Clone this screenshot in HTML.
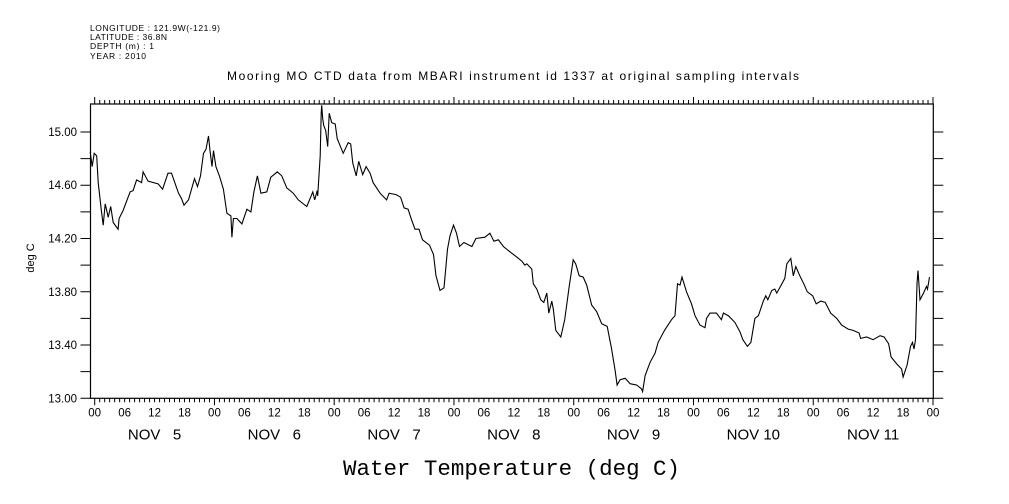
<!DOCTYPE html>
<html><head><meta charset="utf-8"><style>
body{margin:0;background:#fff;}
svg{display:block;font-family:"Liberation Sans",sans-serif;}
</style></head><body>
<svg id="chart" width="1009" height="504" viewBox="0 0 1009 504" xmlns="http://www.w3.org/2000/svg">
<rect width="1009" height="504" fill="#fff"/>
<g font-size="8.5" fill="#000">
<text x="90" y="31" textLength="130">LONGITUDE : 121.9W(-121.9)</text>
<text x="90" y="40" textLength="77">LATITUDE : 36.8N</text>
<text x="90" y="49" textLength="64">DEPTH (m) : 1</text>
<text x="90" y="59" textLength="56">YEAR : 2010</text>
</g>
<text x="513" y="80" text-anchor="middle" font-size="12" textLength="572">Mooring MO CTD data from MBARI instrument id 1337 at original sampling intervals</text>
<text transform="translate(34,258) rotate(-90)" text-anchor="middle" font-size="11">deg C</text>
<text x="343" y="475" font-family="Liberation Mono, monospace" font-size="22" textLength="337" lengthAdjust="spacingAndGlyphs">Water Temperature (deg C)</text>
<g id="axes"></g>
<g id="marks"></g>
</svg>
<script>
const hours = [-0.9,-0.5,-0.1,0.4,0.7,1.3,1.7,2.1,2.7,3.2,3.7,4.7,4.9,5.7,7.1,7.7,8.4,9.4,9.7,10.7,12.7,13.6,14.7,15.4,16.8,17.4,17.9,18.8,20.0,20.6,21.2,21.8,22.3,22.8,23.1,23.5,23.8,24.3,25.0,25.8,26.5,27.3,27.5,27.8,28.5,29.5,30.5,31.3,31.9,32.6,33.3,34.5,35.3,36.6,37.5,38.5,39.8,40.8,42.5,43.7,44.1,44.6,44.7,45.2,45.4,45.5,45.7,45.9,46.3,46.7,47.0,47.5,48.2,48.6,49.8,50.8,51.3,51.7,52.4,52.9,53.7,54.4,55.2,55.8,57.2,58.5,59.0,60.4,61.3,62.0,62.8,63.5,64.2,65.0,65.7,67.1,67.9,68.4,69.2,70.0,70.7,71.2,71.9,72.5,73.1,74.0,75.6,76.4,78.2,79.2,80.0,80.9,81.9,83.2,84.6,85.6,86.2,86.6,87.6,87.9,88.6,89.4,90.0,90.6,91.0,91.6,91.9,92.4,93.4,94.2,95.1,95.9,96.4,97.1,97.9,98.6,99.6,100.6,101.6,102.7,103.6,104.3,104.7,105.3,106.3,107.3,108.6,109.6,109.8,110.3,111.3,112.3,112.9,114.2,115.6,116.3,116.8,117.3,117.7,118.6,119.6,120.3,121.3,122.3,122.6,123.3,124.6,125.6,126.0,127.0,128.3,129.3,129.9,130.8,131.5,132.3,133.0,134.0,134.5,134.9,135.7,136.3,136.7,138.3,138.7,139.5,140.0,140.5,141.3,142.1,142.8,143.9,144.6,145.5,146.4,147.5,148.7,149.7,151.0,152.0,153.2,153.5,154.7,156.0,157.4,158.2,159.1,159.6,160.7,161.7,162.0,162.8,163.5,163.9,164.2,164.5,164.8,165.0,165.4,166.1,166.7,166.9,167.3];
const temps = [14.85,14.74,14.84,14.82,14.62,14.42,14.30,14.46,14.36,14.44,14.32,14.27,14.35,14.41,14.55,14.56,14.64,14.62,14.70,14.63,14.61,14.57,14.69,14.69,14.54,14.50,14.45,14.49,14.65,14.59,14.67,14.84,14.87,14.97,14.86,14.74,14.86,14.74,14.67,14.57,14.39,14.37,14.21,14.35,14.35,14.31,14.42,14.40,14.55,14.67,14.54,14.55,14.66,14.70,14.67,14.58,14.54,14.49,14.44,14.55,14.49,14.56,14.52,14.82,15.14,15.20,15.10,15.05,15.01,14.89,15.14,15.07,15.06,14.95,14.84,14.92,14.91,14.77,14.67,14.78,14.68,14.74,14.69,14.62,14.54,14.49,14.54,14.53,14.51,14.43,14.42,14.34,14.27,14.27,14.19,14.15,14.08,13.92,13.81,13.83,14.12,14.22,14.30,14.24,14.14,14.17,14.14,14.20,14.21,14.24,14.18,14.19,14.14,14.10,14.06,14.03,14.00,14.01,13.97,13.86,13.82,13.74,13.72,13.79,13.64,13.73,13.67,13.51,13.46,13.59,13.84,14.04,14.01,13.92,13.91,13.85,13.70,13.65,13.56,13.54,13.37,13.21,13.10,13.14,13.15,13.11,13.10,13.07,13.05,13.17,13.27,13.34,13.42,13.51,13.59,13.62,13.86,13.85,13.91,13.80,13.71,13.62,13.55,13.53,13.60,13.64,13.64,13.59,13.64,13.62,13.57,13.50,13.44,13.39,13.42,13.60,13.62,13.73,13.77,13.74,13.81,13.82,13.79,13.90,14.01,14.05,13.92,13.99,13.92,13.86,13.80,13.77,13.71,13.73,13.72,13.64,13.60,13.55,13.52,13.51,13.49,13.45,13.46,13.44,13.47,13.46,13.41,13.31,13.26,13.22,13.16,13.25,13.39,13.42,13.37,13.44,13.86,13.96,13.74,13.79,13.84,13.82,13.91];
const yTickValues = [13.0,13.2,13.4,13.6,13.8,14.0,14.2,14.4,14.6,14.8,15.0];
const yTickLabels = ["13.00","","13.40","","13.80","","14.20","","14.60","","15.00"];
const dayLabels = ["NOV  5","NOV  6","NOV  7","NOV  8","NOV  9","NOV 10","NOV 11"];
const hourLabels = ["00","06","12","18"];

const X0=90.5, X1=933.3, YT=104, YB=398.3;
const H0=-0.84, H1=168.06, V0=13.0, V1=15.21;
const xs = h => X0 + (h-H0)/(H1-H0)*(X1-X0);
const ys = v => YB - (v-V0)/(V1-V0)*(YB-YT);
const NS="http://www.w3.org/2000/svg";
const axes=document.getElementById('axes'), marks=document.getElementById('marks');
function mk(tag, attrs, parent){const e=document.createElementNS(NS,tag);for(const k in attrs)e.setAttribute(k,attrs[k]);parent.appendChild(e);return e;}

const frame = mk('rect',{x:X0,y:YT,width:X1-X0,height:YB-YT,fill:'none',stroke:'#000','stroke-width':1.2},axes);



let tickPath='';
yTickValues.forEach((v,i)=>{
  const y=ys(v);
  tickPath+=`M${X0-10},${y}H${X0}M${X1},${y}H${X1+10}`;
  if(yTickLabels[i]){
    const t=mk('text',{x:77,y:y+4,'text-anchor':'end','font-size':11.5},axes);
    t.textContent=yTickLabels[i];
    
    
  }
});
for(let h=0;h<=168;h++){
  const x=xs(h), major=(h%24===0);
  tickPath+=`M${x},${YB}V${YB+(major?7:4)}M${x},${YT}V${YT-(major?7:4)}`;
  if(h%6===0){
    const t=mk('text',{x:x,y:YB+18,'text-anchor':'middle','font-size':11.5},axes);
    t.textContent=hourLabels[(h/6)%4];
    
    
  }
}
const tp=mk('path',{d:tickPath,stroke:'#000','stroke-width':1,fill:'none'},axes);


dayLabels.forEach((d,i)=>{
  const t=mk('text',{x:xs(i*24+12),y:YB+41,'text-anchor':'middle','font-size':15},axes);
  t.textContent=d.replace('  ','\u00a0\u00a0\u00a0');
  
  
});

const pts=hours.map((h,i)=>`${xs(h).toFixed(1)},${Math.max(YT,ys(temps[i])).toFixed(1)}`).join(' ');
const line=mk('polyline',{points:pts,fill:'none',stroke:'#000','stroke-width':1.1},marks);


</script>
</body></html>
